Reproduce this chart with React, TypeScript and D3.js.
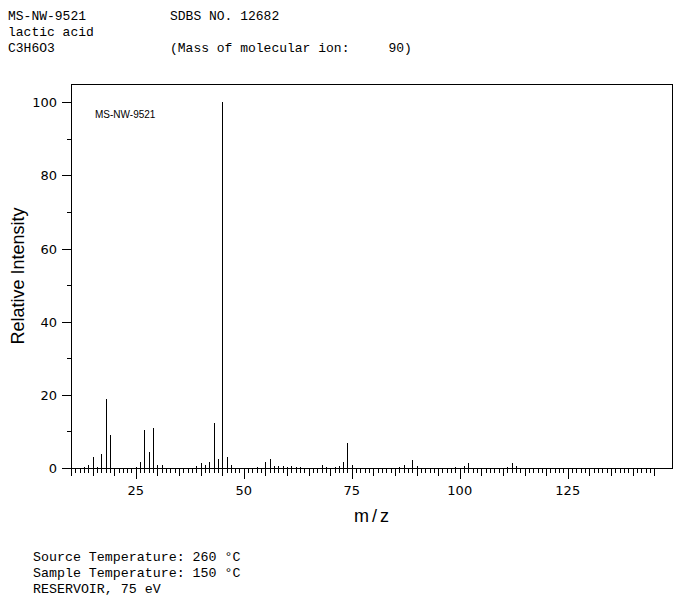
import * as d3 from "d3";

// peak list (m/z, relative intensity)
const mz = [
  13, 14, 15, 16, 17, 18, 19, 25, 26, 27, 28, 29, 30, 31, 39, 40, 41, 42, 43,
  44, 45, 46, 47, 53, 55, 56, 57, 58, 59, 60, 61, 62, 63, 68, 69, 71, 72, 73,
  74, 75, 86, 87, 89, 90, 99, 101, 102, 111, 112, 113,
];
const intensity = [
  0.3, 0.9, 3.1, 0.3, 3.9, 19.0, 9.1, 0.3, 1.7, 10.5, 4.5, 11.0, 0.8, 0.8, 0.6,
  1.5, 0.9, 1.7, 12.2, 2.5, 100, 3.1, 0.9, 0.4, 1.7, 2.5, 0.6, 0.6, 0.6, 0.4,
  0.6, 0.3, 0.3, 0.9, 0.4, 0.4, 0.6, 1.7, 6.9, 0.9, 0.4, 0.9, 2.3, 0.6, 0.4,
  0.6, 1.5, 0.4, 1.5, 0.6,
];

const yTicks = [0, 10, 20, 30, 40, 50, 60, 70, 80, 90, 100];
const xLabels = [25, 50, 75, 100, 125];

const headerLines = [
  ["MS-NW-9521", "SDBS NO. 12682"],
  ["lactic acid", ""],
  ["C3H6O3", "(Mass of molecular ion:     90)"],
];
const footerLines = [
  "Source Temperature: 260 \u00B0C",
  "Sample Temperature: 150 \u00B0C",
  "RESERVOIR, 75 eV",
];

const W = 698;
const H = 601;
const left = 71;
const right = 672.3;
const top = 84;
const bottom = 468;

export default function App() {
  const x = d3.scaleLinear().domain([10, 149.2]).range([left, right]);
  const y = d3.scaleLinear().domain([0, 105]).range([bottom, top]);
  const xTicks = d3.range(10, 146, 1);
  const px = (v: number) => Math.round(x(v)) + 0.5;
  const py = (v: number) => Math.round(y(v)) + 0.5;
  const mono = "'Liberation Mono', 'Courier New', monospace";
  const sans = "'DejaVu Sans', 'Liberation Sans', sans-serif";

  return (
    <div style={{ position: "absolute", left: 0, top: 0 }}>
      <svg width={W} height={H} style={{ display: "block", background: "#fff" }}>
        {/* header */}
        {headerLines.map((l, i) => (
          <g key={i} fontFamily={mono} fontSize={13} fill="#000">
            <text x={8} y={20 + i * 16}>{l[0]}</text>
            {l[1] && <text x={170} y={20 + i * 16} style={{ whiteSpace: "pre" }}>{l[1]}</text>}
          </g>
        ))}

        {/* frame */}
        <g shapeRendering="crispEdges" stroke="#000" fill="none">
          <path d={`M${left + 0.5},${bottom + 0.5}V${top + 0.5}H${Math.round(right) + 0.5}V${bottom + 0.5}H${left + 0.5}`} />
          {/* y ticks */}
          {yTicks.map((t) => (
            <line key={t} x1={t % 20 === 0 ? left - 9 : left - 4.5} x2={left} y1={py(t)} y2={py(t)} />
          ))}
          {/* x ticks */}
          {xTicks.map((t) => (
            <line
              key={t}
              x1={px(t)}
              x2={px(t)}
              y1={bottom}
              y2={bottom + (t % 25 === 0 ? 10.5 : t % 5 === 0 ? 7.5 : 5)}
            />
          ))}
          {/* peaks */}
          {mz.map((m, i) => (
            <line key={m} x1={px(m)} x2={px(m)} y1={bottom} y2={Math.round(y(intensity[i]))} />
          ))}
        </g>

        {/* y labels */}
        {yTicks
          .filter((t) => t % 20 === 0)
          .map((t) => (
            <text key={t} x={57} y={py(t)} dy="0.36em" textAnchor="end" fontFamily={sans} fontSize={13} fill="#000">
              {t}
            </text>
          ))}
        {/* x labels */}
        {xLabels.map((t) => (
          <text key={t} x={x(t)} y={495} textAnchor="middle" fontFamily={sans} fontSize={13} fill="#000">
            {t}
          </text>
        ))}

        <text x={95} y={118} fontFamily="'Liberation Sans', Arial, sans-serif" fontSize={10} fill="#000">
          MS-NW-9521
        </text>

        {/* axis titles */}
        <text
          transform="translate(24,276) rotate(-90)"
          textAnchor="middle"
          fontFamily="'Liberation Sans', Arial, sans-serif"
          fontSize={18}
          fill="#000"
        >
          Relative Intensity
        </text>
        <text x={373} y={522} textAnchor="middle" fontFamily="'Liberation Sans', Arial, sans-serif" fontSize={18} letterSpacing={3} fill="#000">
          m/z
        </text>

        {/* footer */}
        {footerLines.map((l, i) => (
          <text key={i} x={33} y={561 + i * 16} fontFamily={mono} fontSize={13.3} fill="#000">
            {l}
          </text>
        ))}
      </svg>
    </div>
  );
}
